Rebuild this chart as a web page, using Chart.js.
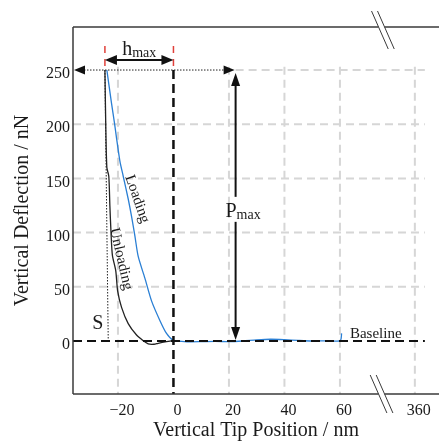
<!DOCTYPE html>
<html>
<head>
<meta charset="utf-8">
<script src="https://cdn.jsdelivr.net/npm/chart.js@4.4.1/dist/chart.umd.min.js"></script>
<style>
  body { margin: 0; background: #fff; }
</style>
</head>
<body>
<canvas id="chart" width="439" height="443"></canvas>
<script>
// loading curve (blue): tip position in nm, deflection in nN
const loadX = [-24.0, -22.3, -21.3, -20.5, -19.3, -18.1, -16.3, -15.1, -13.9, -12.7, -10.3, -7.9, -4.9, -2.5, 0, 3, 6, 10, 15, 20, 25, 30, 35, 40, 45, 50, 55, 60, 60.4, 60.6];
const loadY = [250, 219, 202, 187, 166, 152, 131, 115, 97, 78, 58, 37, 19, 7, 0.5, -0.3, -0.8, -0.6, -0.3, -0.6, 0, 1, 1.6, 1.2, 0.5, 0, 0.2, 0, 2, 7];

// unloading curve (black)
const unloadX = [-24.7, -24.4, -24.0, -23.3, -22.9, -22.5, -22.0, -20.8, -20.1, -18.7, -16.3, -13.3, -10.9, -9.1, -7.0, -5.5, -2.5, 0];
const unloadY = [250, 200, 160, 152, 124, 100, 79, 65, 46, 31, 16, 5.5, 0.3, -2.7, -3.0, -2.1, -0.6, 0.5];

// axis ticks (the 360 tick sits after the axis break)
const xTicks = [-20, 0, 20, 40, 60, 87];
const xTickLabels = ['\u221220', '0', '20', '40', '60', '360'];
const yTicks = [0, 50, 100, 150, 200, 250];

// annotated quantities
const hmaxFrom = -24.7;
const hmaxTo = 0;
const pmax = 250;
const pmaxAt = 22.4;
const stiffFrom = [-24.7, 250];
const stiffTo = [-23.5, 0];
const axisBreakAt = 75;

const serif = '"Liberation Serif", "Times New Roman", serif';
const ink = '#1a1a1a';

function line(ctx, x1, y1, x2, y2) {
  ctx.beginPath();
  ctx.moveTo(x1, y1);
  ctx.lineTo(x2, y2);
  ctx.stroke();
}

// filled arrow head with its tip at (x, y) pointing along ang
function arrowHead(ctx, x, y, ang, len, half) {
  ctx.save();
  ctx.translate(x, y);
  ctx.rotate(ang);
  ctx.beginPath();
  ctx.moveTo(0, 0);
  ctx.lineTo(-len, -half);
  ctx.lineTo(-len, half);
  ctx.closePath();
  ctx.fill();
  ctx.restore();
}

const annotations = {
  id: 'annotations',
  beforeDatasetsDraw(chart) {
    const ctx = chart.ctx, xs = chart.scales.x, ys = chart.scales.y;
    const area = chart.chartArea;
    const gridTop = ys.getPixelForValue(253);
    const gridRight = xs.getPixelForValue(90.6);
    ctx.save();
    ctx.strokeStyle = '#d6d6d6';
    ctx.lineWidth = 2;
    ctx.setLineDash([8, 5]);
    xTicks.forEach(v => {
      if (v === 0) return;
      const px = xs.getPixelForValue(v);
      line(ctx, px, gridTop, px, area.bottom);
    });
    yTicks.forEach(v => {
      if (v === 0) return;
      const py = ys.getPixelForValue(v);
      const x0 = v === pmax ? xs.getPixelForValue(pmaxAt) : area.left;
      line(ctx, x0, py, gridRight, py);
    });
    ctx.restore();
  },
  afterDatasetsDraw(chart) {
    const ctx = chart.ctx, xs = chart.scales.x, ys = chart.scales.y;
    const area = chart.chartArea;
    const gridRight = xs.getPixelForValue(90.6);
    const x0 = xs.getPixelForValue(0), y0 = ys.getPixelForValue(0);
    const yP = ys.getPixelForValue(pmax);
    const xP = xs.getPixelForValue(pmaxAt);
    ctx.save();

    // dotted lines: max load level and unloading stiffness
    ctx.strokeStyle = '#222';
    ctx.lineWidth = 1;
    ctx.setLineDash([1.5, 1.5]);
    line(ctx, area.left + 8, yP, xP - 8, yP);
    line(ctx, xs.getPixelForValue(stiffFrom[0]), ys.getPixelForValue(stiffFrom[1]),
      xs.getPixelForValue(stiffTo[0]), ys.getPixelForValue(stiffTo[1]));

    // contact point lines
    ctx.strokeStyle = '#111';
    ctx.lineWidth = 2;
    ctx.setLineDash([9, 5]);
    line(ctx, area.left, y0, gridRight, y0);
    ctx.lineWidth = 2.5;
    line(ctx, x0, yP, x0, area.bottom);

    // red markers for h_max
    const xa = xs.getPixelForValue(hmaxFrom), xb = xs.getPixelForValue(hmaxTo);
    ctx.strokeStyle = '#e0403a';
    ctx.lineWidth = 1.5;
    ctx.setLineDash([7, 6]);
    line(ctx, xa, yP - 24, xa, yP);
    line(ctx, xb, yP - 24, xb, yP);

    ctx.setLineDash([]);
    ctx.fillStyle = '#111';
    ctx.strokeStyle = '#111';
    ctx.lineWidth = 2;

    // h_max double arrow
    const yh = yP - 10;
    line(ctx, xa + 6, yh, xb - 6, yh);
    arrowHead(ctx, xa, yh, Math.PI, 12, 5);
    arrowHead(ctx, xb, yh, 0, 12, 5);

    // P_max level arrows
    arrowHead(ctx, area.left + 1, yP, Math.PI, 11, 4.5);
    arrowHead(ctx, xP - 1, yP, 0, 11, 4.5);

    // P_max vertical arrow, broken around its label
    const yLab = ys.getPixelForValue(121);
    line(ctx, xP, yP + 10, xP, yLab - 13);
    line(ctx, xP, yLab + 12, xP, y0 - 10);
    arrowHead(ctx, xP, yP + 3, -Math.PI / 2, 13, 4.5);
    arrowHead(ctx, xP, y0 - 1, Math.PI / 2, 13, 4.5);

    // labels
    ctx.fillStyle = ink;
    ctx.textBaseline = 'alphabetic';
    ctx.font = '20px ' + serif;
    ctx.textAlign = 'right';
    ctx.fillText('P', xP + 1, yLab + 7);
    ctx.font = '14px ' + serif;
    ctx.textAlign = 'left';
    ctx.fillText('max', xP + 1, yLab + 9);

    ctx.font = '20px ' + serif;
    const wh = ctx.measureText('h').width;
    ctx.font = '14px ' + serif;
    const wm = ctx.measureText('max').width;
    const hx = (xa + xb) / 2 - (wh + wm) / 2;
    ctx.font = '20px ' + serif;
    ctx.fillText('h', hx, yh - 5);
    ctx.font = '14px ' + serif;
    ctx.fillText('max', hx + wh, yh - 3);

    ctx.font = '20px ' + serif;
    ctx.textAlign = 'center';
    ctx.textBaseline = 'middle';
    ctx.fillText('S', xs.getPixelForValue(-27.3), ys.getPixelForValue(16));

    ctx.font = '15px ' + serif;
    ctx.save();
    ctx.translate(xs.getPixelForValue(-13.1), ys.getPixelForValue(131));
    ctx.rotate(71 * Math.PI / 180);
    ctx.fillText('Loading', 0, 0);
    ctx.restore();
    ctx.save();
    ctx.translate(xs.getPixelForValue(-18.9), ys.getPixelForValue(75.6));
    ctx.rotate(77 * Math.PI / 180);
    ctx.fillText('Unloading', 0, 0);
    ctx.restore();

    ctx.textAlign = 'left';
    ctx.textBaseline = 'alphabetic';
    ctx.fillText('Baseline', xs.getPixelForValue(63.6), ys.getPixelForValue(2.8));
    ctx.restore();
  },
  afterDraw(chart) {
    const ctx = chart.ctx, xs = chart.scales.x;
    const area = chart.chartArea;
    const bx = xs.getPixelForValue(axisBreakAt);
    ctx.save();
    ctx.strokeStyle = '#3a3a3a';
    ctx.lineWidth = 1.5;
    line(ctx, area.left, area.top, area.left, area.bottom);
    line(ctx, area.left, area.top, bx - 3, area.top);
    line(ctx, bx + 3, area.top, area.right, area.top);
    line(ctx, area.left, area.bottom, bx - 3, area.bottom);
    line(ctx, bx + 3, area.bottom, area.right, area.bottom);
    ctx.lineWidth = 1;
    const k = 0.44;
    [area.top, area.bottom].forEach((y, i) => {
      const up = i === 0 ? 16 : 19, down = i === 0 ? 22 : 19;
      [-3, 3].forEach(dx => {
        const cx = bx + dx;
        line(ctx, cx - up * k, y - up, cx + down * k, y + down);
      });
    });
    ctx.restore();
  }
};

new Chart(document.getElementById('chart'), {
  type: 'scatter',
  data: {
    datasets: [
      {
        label: 'Loading',
        data: loadX.map((x, i) => ({ x: x, y: loadY[i] })),
        showLine: true,
        borderColor: '#2a7fd4',
        borderWidth: 1.3,
        pointRadius: 0,
        tension: 0.25
      },
      {
        label: 'Unloading',
        data: unloadX.map((x, i) => ({ x: x, y: unloadY[i] })),
        showLine: true,
        borderColor: '#222',
        borderWidth: 1.3,
        pointRadius: 0,
        tension: 0.25
      }
    ]
  },
  options: {
    responsive: false,
    animation: false,
    devicePixelRatio: 1,
    layout: { padding: { top: 27, right: 0, bottom: 0, left: 0 } },
    plugins: { legend: { display: false }, tooltip: { enabled: false } },
    scales: {
      x: {
        type: 'linear',
        min: -36.2,
        max: 95.7,
        grid: { display: false, drawTicks: false },
        border: { display: false },
        afterBuildTicks: s => { s.ticks = xTicks.map(v => ({ value: v })); },
        afterFit: s => { s.height = 49; },
        ticks: {
          callback: v => xTickLabels[xTicks.indexOf(v)],
          font: { family: serif, size: 16 },
          color: ink,
          padding: 7,
          labelOffset: 4,
          maxRotation: 0,
          autoSkip: false
        },
        title: {
          display: true,
          text: 'Vertical Tip Position / nm',
          font: { family: serif, size: 20 },
          color: ink,
          padding: { top: 0, bottom: 0 }
        }
      },
      y: {
        type: 'linear',
        min: -48.9,
        max: 289.7,
        grid: { display: false, drawTicks: false },
        border: { display: false },
        afterBuildTicks: s => { s.ticks = yTicks.map(v => ({ value: v })); },
        afterFit: s => { s.width = 73; },
        ticks: {
          font: { family: serif, size: 16 },
          color: ink,
          padding: 3,
          labelOffset: 4
        },
        title: {
          display: true,
          text: 'Vertical Deflection / nN',
          font: { family: serif, size: 20 },
          color: ink,
          padding: { top: 11, bottom: 0 }
        }
      }
    }
  },
  plugins: [annotations]
});
</script>
</body>
</html>
